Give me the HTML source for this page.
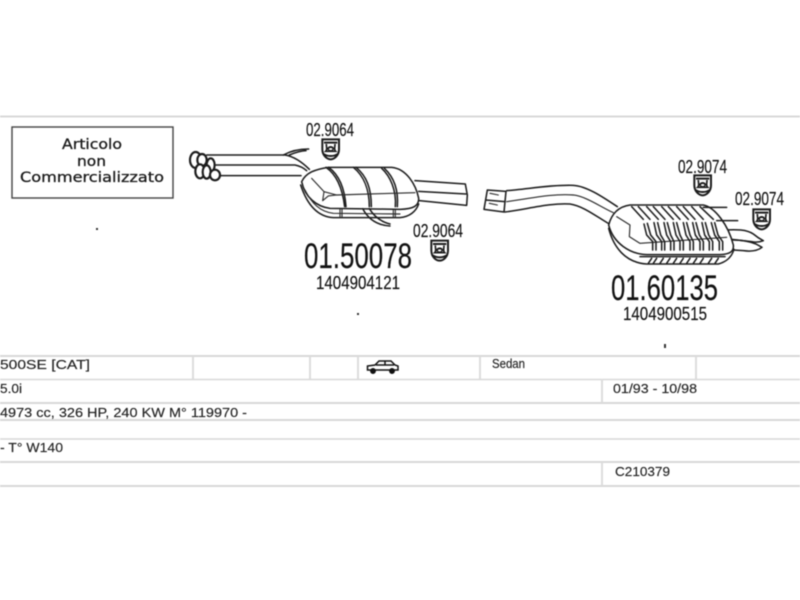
<!DOCTYPE html>
<html><head><meta charset="utf-8"><style>
html,body{margin:0;padding:0;background:#fff;width:800px;height:600px;overflow:hidden}
svg{display:block;filter:blur(.4px)}
text{font-family:"Liberation Sans",sans-serif;fill:#1c1c1c}
.t{font-size:13px;fill:#222;stroke:#222;stroke-width:.15}
.n{fill:#111;stroke:#111;stroke-width:.15}
.b{font-family:"DejaVu Sans",sans-serif;font-size:14px;fill:#1a1a1a;stroke:#1a1a1a;stroke-width:.3}
.l{stroke:#d8d8d8;stroke-width:2;fill:none}
.v{stroke:#dcdcdc;stroke-width:2}
.d{fill:none;stroke:#1c1c1c;stroke-width:4.6;stroke-linecap:round;stroke-linejoin:round}
.h{fill:none;stroke:#2a2a2a;stroke-width:3.4;stroke-linecap:round;stroke-linejoin:round}
</style></head><body>
<svg width="800" height="600" viewBox="0 0 800 600" xmlns="http://www.w3.org/2000/svg">
<defs>
<g id="br">
<path d="M0,0 H50 V30 C50,48 36,60 25,60 C14,60 0,48 0,30 Z" fill="#fff" stroke="#1c1c1c" stroke-width="6"/>
<path d="M5,10 H45 M4,44 C15,52 35,52 46,44" stroke="#1c1c1c" stroke-width="6" fill="none"/>
<path d="M12,14 C12,26 16,30 10,36 H40 C34,30 38,26 38,14" stroke="#1c1c1c" stroke-width="5" fill="none"/>
<ellipse cx="25" cy="28" rx="10" ry="8" fill="#1c1c1c"/><ellipse cx="25" cy="29" rx="5" ry="3" fill="#fff"/>
</g>
</defs>
<line x1="0" y1="116.500" x2="800" y2="116.500" class="l"/>
<rect x="12" y="127" width="161" height="71" fill="#fff" stroke="#444" stroke-width="1.400"/>
<text class="b" x="62" y="149" textLength="60" lengthAdjust="spacingAndGlyphs">Articolo</text>
<text class="b" x="77" y="166" textLength="29" lengthAdjust="spacingAndGlyphs">non</text>
<text class="b" x="20" y="182" textLength="144" lengthAdjust="spacingAndGlyphs">Commercializzato</text>
<rect x="96" y="228" width="2" height="2" fill="#333"/>
<rect x="357" y="313" width="2" height="2" fill="#333"/>
<rect x="664" y="344" width="2" height="4" fill="#333"/>

<!-- exhaust 1 -->
<g transform="translate(0,110) scale(.33333)">
<path class="d" d="M620,135 H855 C885,140 910,160 928,178"/>
<path class="d" d="M640,165 H885 C900,168 912,175 920,182"/>
<path class="d" d="M660,197 H903"/>
<path class="d" d="M850,135 C870,124 895,117 926,117 M868,135 C885,128 900,123 918,122"/>
<g fill="#fff" stroke="#1c1c1c" stroke-width="6.500">
<ellipse cx="587" cy="150" rx="17" ry="24"/><ellipse cx="606" cy="150" rx="14" ry="18"/>
<ellipse cx="632" cy="165" rx="12" ry="20"/>
<ellipse cx="600" cy="184" rx="14" ry="21"/><ellipse cx="620" cy="186" rx="12" ry="20"/>
<ellipse cx="645" cy="195" rx="15" ry="16"/>
</g>
<path class="d" d="M1245,212 L1396,222 L1402,255 L1400,286 M1256,244 L1398,252 M1258,272 L1400,286"/>
<path class="d" style="fill:#fff" d="M905,215 C918,188 945,178 985,172 L1175,172 C1220,176 1248,225 1256,265 C1257,288 1240,297 1200,298 L990,295 C950,290 915,262 905,215 Z"/>
<path class="d" d="M902,225 C920,280 950,320 1000,323 L1200,323 C1228,320 1248,305 1256,282"/>
<path class="h" d="M915,240 C935,280 960,305 1000,310 L1200,312"/>
<path class="d" d="M978,172 C1012,195 1028,240 1034,290 M986,172 C1018,195 1034,235 1038,290"/>
<path class="d" d="M1060,172 C1092,198 1108,240 1108,290 M1068,172 C1100,198 1114,235 1114,290"/>
<path class="d" d="M1145,175 C1170,198 1190,240 1186,290 M1153,175 C1178,198 1196,235 1192,290"/>
<path class="h" d="M1020,298 V322 M1026,298 V322 M1180,298 V322 M1186,298 V322"/>
<path class="h" d="M935,205 L972,245 L968,272 L985,258 L1010,255 L1245,248 M972,245 L1010,255"/>
<path class="d" d="M1088,296 C1104,326 1130,346 1170,348 M1108,296 C1124,322 1146,336 1170,342"/>
<use href="#br" x="967" y="88"/>
<use href="#br" x="1294" y="392"/>
</g>

<!-- exhaust 2 -->
<g transform="translate(470,150) scale(.33333)">
<path class="d" d="M110,122 C170,118 240,104 310,106 C350,108 400,142 442,170"/>
<path class="h" d="M110,155 C170,148 240,130 310,135 C350,140 390,170 430,188"/>
<path class="d" d="M105,186 C170,178 240,158 300,162 C340,168 380,200 418,222"/>
<path class="d" style="fill:#fff" d="M42,178 L52,120 L108,124 L102,186 Z M47,150 L104,155"/>
<path class="h" d="M60,130 L85,135 M58,160 L82,165"/>
<path class="d" d="M760,240 C800,238 830,238 850,252 C862,262 872,268 880,272 C870,276 860,278 845,275 L785,268"/>
<path class="d" d="M790,270 C820,270 840,275 858,282 L876,292 C866,300 850,306 820,302 L790,300"/>
<path class="d" style="fill:#fff" d="M416,225 C425,190 445,170 480,165 L700,165 C735,172 775,225 790,285 C792,305 780,312 750,314 L530,314 C480,312 430,280 416,225 Z"/>
<path class="d" d="M416,235 C430,290 465,338 530,342 L745,342 C770,335 785,322 792,298"/>
<path class="d" d="M510,320 H765"/>
<path class="h" d="M440,200 L480,225 L478,260 L510,280 L770,262"/>
<path class="d" d="M700,172 L770,172 M740,212 L803,212"/>
<path class="d" d="M485,170 L520,208 M505,170 L540,208 M530,170 L565,208 M550,170 L585,208 M575,170 L610,208 M595,170 L630,208 M620,170 L655,208 M640,170 L675,208 M665,170 L700,208 M690,170 L730,208"/>
<path class="d" d="M522,222 L530,255 L548,275 V300 M532,220 L542,255 L558,275 V300 M552,218 L560,255 L575,275 V300 M563,218 L572,255 L584,275 V300 M582,218 L590,255 L602,275 V300 M592,218 L602,255 L612,275 V300 M610,218 L618,255 L630,275 V300 M620,218 L630,255 L640,275 V300 M640,218 L648,255 L660,275 V300 M650,218 L660,255 L670,275 V300 M668,218 L676,255 L690,275 V300 M678,218 L688,255 L700,275 V300 M696,218 L704,255 L718,275 V300 M706,218 L716,255 L728,275 V300 M724,218 L734,255 L748,275 V300 M734,218 L744,255 L758,275 V300"/>
<path class="d" d="M545,325 L535,340 M560,325 L550,340 M580,325 L570,340 M600,325 L590,340 M620,325 L610,340 M640,325 L630,340 M660,325 L650,340 M680,325 L670,340 M700,325 L690,340 M725,325 L715,340 M745,325 L735,340"/>
<use href="#br" x="673" y="76"/>
<use href="#br" x="850" y="178"/>
</g>

<text class="n" x="306" y="136" font-size="18" textLength="48" lengthAdjust="spacingAndGlyphs">02.9064</text>
<text class="n" x="413" y="237" font-size="18" textLength="50" lengthAdjust="spacingAndGlyphs">02.9064</text>
<text class="n" x="678" y="173" font-size="18" textLength="49" lengthAdjust="spacingAndGlyphs">02.9074</text>
<text class="n" x="735" y="205" font-size="18" textLength="49" lengthAdjust="spacingAndGlyphs">02.9074</text>
<text class="n" x="304" y="268" font-size="35" textLength="108" lengthAdjust="spacingAndGlyphs">01.50078</text>
<text class="n" x="611" y="300" font-size="35" textLength="107" lengthAdjust="spacingAndGlyphs">01.60135</text>
<text class="n" x="316" y="289" font-size="18" textLength="84" lengthAdjust="spacingAndGlyphs">1404904121</text>
<text class="n" x="623" y="320" font-size="18" textLength="84" lengthAdjust="spacingAndGlyphs">1404900515</text>

<!-- table -->
<g>
<line x1="0" y1="356" x2="800" y2="356" class="l"/>
<line x1="0" y1="379.500" x2="800" y2="379.500" class="l" style="stroke-width:1.500"/>
<line x1="0" y1="403" x2="800" y2="403" class="l"/>
<line x1="0" y1="420" x2="800" y2="420" class="l"/>
<line x1="0" y1="439" x2="800" y2="439" class="l" style="stroke-width:1.500"/>
<line x1="0" y1="462" x2="800" y2="462" class="l"/>
<line x1="0" y1="486" x2="800" y2="486" class="l"/>
<line x1="193" y1="356" x2="193" y2="379" class="v"/>
<line x1="310" y1="356" x2="310" y2="379" class="v"/>
<line x1="358" y1="356" x2="358" y2="379" class="v"/>
<line x1="480" y1="356" x2="480" y2="379" class="v"/>
<line x1="696" y1="356" x2="696" y2="379" class="v"/>
<line x1="602" y1="379" x2="602" y2="403" class="v"/>
<line x1="602" y1="462" x2="602" y2="486" class="v"/>
</g>
<text class="t" x="0" y="369" textLength="90" lengthAdjust="spacingAndGlyphs">500SE [CAT]</text>
<text class="t" x="0" y="393" textLength="22" lengthAdjust="spacingAndGlyphs">5.0i</text>
<text class="t" x="0" y="417" textLength="247" lengthAdjust="spacingAndGlyphs">4973 cc, 326 HP, 240 KW M° 119970 -</text>
<text class="t" x="0" y="452" textLength="63" lengthAdjust="spacingAndGlyphs">- T° W140</text>
<text class="t" x="492" y="368" font-size="12" textLength="33" lengthAdjust="spacingAndGlyphs">Sedan</text>
<text class="t" x="613" y="393" textLength="84" lengthAdjust="spacingAndGlyphs">01/93 - 10/98</text>
<text class="t" x="615" y="476" textLength="55" lengthAdjust="spacingAndGlyphs">C210379</text>
<!-- car -->
<g fill="none" stroke="#111" stroke-width="1.500">
<path d="M367.500,369 V366 L375,365 L379,361 H391 L395,365 L398,366 V370 H367.500 Z" fill="#fff"/>
<path d="M376,365 H394 M385,361 V365"/>
<circle cx="373" cy="371" r="2.200" fill="#111"/><circle cx="392" cy="371" r="2.200" fill="#111"/>
</g>
</svg>
</body></html>
